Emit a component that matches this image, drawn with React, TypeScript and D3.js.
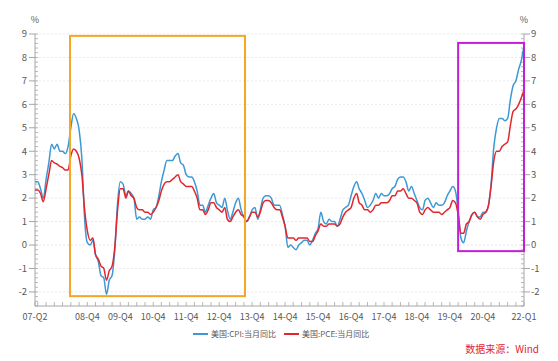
import React from "react";
import * as d3 from "d3";

const startMonth = "2007-05";
const cpi: number[] = [
  2.7, 2.7, 2.4, 2.0, 2.8, 3.5, 4.3, 4.1,
  4.3, 4.0, 4.0, 3.9, 4.2, 5.0, 5.6, 5.4, 4.9, 3.7, 1.1, 0.1,
  0.0, 0.2, -0.4, -0.7, -1.3, -1.4, -2.1, -1.5, -1.3, -0.2, 1.8, 2.7,
  2.6, 2.1, 2.3, 2.2, 2.0, 1.1, 1.2, 1.1, 1.1, 1.2, 1.1, 1.5,
  1.6, 2.1, 2.7, 3.2, 3.6, 3.6, 3.6, 3.8, 3.9, 3.5, 3.4, 3.0,
  2.9, 2.9, 2.7, 2.3, 1.7, 1.7, 1.4, 1.7, 2.0, 2.2, 1.8, 1.7,
  1.6, 2.0, 1.5, 1.1, 1.4, 1.8, 2.0, 1.5, 1.2, 1.0, 1.2, 1.5,
  1.6, 1.1, 1.5, 2.0, 2.1, 2.1, 2.0, 1.7, 1.7, 1.7, 1.3, 0.8,
  -0.1, 0.0, -0.1, -0.2, 0.0, 0.1, 0.2, 0.2, 0.0, 0.2, 0.5, 0.7,
  1.4, 1.0, 0.9, 1.1, 1.0, 1.0, 0.8, 1.1, 1.5, 1.6, 1.7, 2.1,
  2.5, 2.7, 2.4, 2.2, 1.9, 1.6, 1.7, 1.9, 2.2, 2.0, 2.2, 2.1,
  2.1, 2.2, 2.4, 2.5, 2.8, 2.9, 2.9, 2.7, 2.3, 2.5, 2.2, 1.9,
  1.6, 1.5, 1.9, 2.0, 1.8, 1.6, 1.8, 1.7, 1.7, 1.8, 2.1, 2.3,
  2.5, 2.3, 1.5, 0.3, 0.1, 0.6, 1.0, 1.3, 1.4, 1.2, 1.2, 1.4,
  1.4, 1.7, 2.6, 4.2, 5.0, 5.4, 5.4, 5.3, 5.4, 6.2, 6.8, 7.0,
  7.5, 7.9, 8.5,
];
const pce: number[] = [
  2.35, 2.35, 2.2, 1.85, 2.4, 3.0, 3.6, 3.5,
  3.45, 3.35, 3.3, 3.2, 3.2, 3.8, 4.1, 4.0, 3.7, 3.0, 1.5, 0.6,
  0.2, 0.3, -0.4, -0.6, -0.9, -1.0, -1.5, -1.1, -0.9, -0.1, 1.5, 2.4,
  2.4, 2.0, 2.3, 2.1, 2.0, 1.6, 1.5, 1.5, 1.4, 1.4, 1.3, 1.4,
  1.6, 1.9, 2.3, 2.6, 2.7, 2.7, 2.8, 2.9, 3.0, 2.7, 2.6, 2.5,
  2.5, 2.5, 2.3, 2.0, 1.5, 1.5, 1.3, 1.5, 1.8, 1.8, 1.6, 1.5,
  1.4, 1.6, 1.1, 1.0, 1.2, 1.4, 1.5, 1.3, 1.2, 1.0, 1.2, 1.4,
  1.4, 1.2, 1.4, 1.8, 1.9, 1.9, 1.8, 1.6, 1.5, 1.5, 1.2, 0.8,
  0.3, 0.3, 0.3, 0.2, 0.3, 0.3, 0.3, 0.3, 0.15, 0.15, 0.4, 0.6,
  0.9, 0.8, 0.8, 0.9, 0.9, 0.9, 0.8, 0.9, 1.2, 1.4, 1.5, 1.6,
  2.0, 2.2, 1.8, 1.7, 1.5, 1.5, 1.4, 1.5, 1.7, 1.7, 1.8, 1.8,
  1.8, 1.9, 2.1, 2.1, 2.3, 2.3, 2.4, 2.2, 2.0, 2.0, 1.9, 1.8,
  1.4, 1.3, 1.5, 1.6, 1.5, 1.4, 1.4, 1.4, 1.3, 1.4, 1.5, 1.6,
  1.9, 1.8, 1.3, 0.5, 0.5, 0.9, 1.0, 1.3, 1.4, 1.2, 1.1, 1.3,
  1.4, 1.7, 2.5, 3.6, 4.0, 4.0, 4.2, 4.3, 4.4, 5.1, 5.7, 5.8,
  6.0, 6.3, 6.6,
];
const seriesNames = ["美国:CPI:当月同比", "美国:PCE:当月同比"];
const tickLabels = ["07-Q2", "08-Q4", "09-Q4", "10-Q4", "11-Q4", "12-Q4", "13-Q4", "14-Q4", "15-Q4", "16-Q4", "17-Q4", "18-Q4", "19-Q4", "20-Q4", "22-Q1"];
const tickDates = ["2007-05", "2008-12", "2009-12", "2010-12", "2011-12", "2012-12", "2013-12", "2014-12", "2015-12", "2016-12", "2017-12", "2018-12", "2019-12", "2020-12", "2022-03"];
const yTicks = [-2, -1, 0, 1, 2, 3, 4, 5, 6, 7, 8, 9];
const boxStart = ["2008-05-23", "2020-03-01"];
const boxEnd = ["2013-09-13", "2022-03-01"];
const boxTop = [8.92, 8.62];
const boxBottom = [-2.18, -0.26];
const sourceText = "数据来源：Wind";

const W = 558, H = 361;
const L = 35, R = 524, T = 34, B = 306;
const FONT = "'Noto Sans CJK SC', 'Noto Sans', sans-serif";
const BLUE = "#3d98d3";
const RED = "#e2262e";
const BOXCOLORS = ["#f5a623", "#c41fd8"];
const AXIS = "#a6a6a6";
const TEXT = "#595959";

const parseM = d3.timeParse("%Y-%m");
const parseD = d3.timeParse("%Y-%m-%d");

export default function App() {
  const start = parseM(startMonth)!;
  const dates = cpi.map((_, i) => d3.timeMonth.offset(start, i));
  const x = d3.scaleTime().domain([dates[0], dates[dates.length - 1]]).range([L, R]);
  const y = d3.scaleLinear().domain([-2.6, 9]).range([B, T]);

  const line = d3
    .line<number>()
    .x((_, i) => x(dates[i]))
    .y((d) => y(d))
    .curve(d3.curveMonotoneX);

  const minorY = d3.range(-13, 46).map((k) => k / 5).filter((v) => v >= -2.6 && v <= 9);
  const quarterTicks = d3.range(0, dates.length).filter((i) => dates[i].getMonth() % 3 === 2 || i === 0).map((i) => dates[i]);

  return (
    <svg width={W} height={H} style={{ position: "absolute", left: 0, top: 0, background: "#fff" }} fontFamily={FONT}>
      <rect x={0} y={0} width={W} height={H} fill="#fff" />
      {yTicks.map((v) => (
        <line key={"g" + v} x1={L} x2={R} y1={y(v)} y2={y(v)} stroke="#e3e3e3" strokeWidth={0.8} strokeDasharray="2,2" />
      ))}
      <line x1={L} x2={L} y1={T} y2={B} stroke={AXIS} />
      {minorY.map((v, i) => (
        <line key={"ml" + i} x1={L} x2={L + 3} y1={y(v)} y2={y(v)} stroke={AXIS} strokeWidth={0.8} />
      ))}
      {yTicks.map((v) => (
        <g key={"yl" + v}>
          <line x1={L - 6} x2={L} y1={y(v)} y2={y(v)} stroke={AXIS} />
          <text x={L - 8} y={y(v)} dy="0.35em" textAnchor="end" fontSize={9.5} fill={TEXT}>{v}</text>
        </g>
      ))}
      <line x1={R} x2={R} y1={T} y2={B} stroke={AXIS} />
      {minorY.map((v, i) => (
        <line key={"mr" + i} x1={R - 3} x2={R} y1={y(v)} y2={y(v)} stroke={AXIS} strokeWidth={0.8} />
      ))}
      {yTicks.map((v) => (
        <g key={"yr" + v}>
          <line x1={R} x2={R + 6} y1={y(v)} y2={y(v)} stroke={AXIS} />
          <text x={R + 7} y={y(v)} dy="0.35em" textAnchor="start" fontSize={9.5} fill={TEXT}>{v}</text>
        </g>
      ))}
      <text x={L} y={23} textAnchor="middle" fontSize={9} fill={TEXT}>%</text>
      <text x={R} y={23} textAnchor="middle" fontSize={9} fill={TEXT}>%</text>
      <line x1={L} x2={R} y1={B} y2={B} stroke={AXIS} />
      {quarterTicks.map((d, i) => (
        <line key={"xt" + i} x1={x(d)} x2={x(d)} y1={B} y2={B - 4} stroke={AXIS} strokeWidth={0.8} />
      ))}
      {tickLabels.map((t, i) => (
        <text key={"xl" + i} x={x(parseM(tickDates[i])!)} y={B + 14} textAnchor="middle" fontSize={9} fill={TEXT}>{t}</text>
      ))}
      <path d={line(cpi) || ""} fill="none" stroke={BLUE} strokeWidth={1.5} />
      <path d={line(pce) || ""} fill="none" stroke={RED} strokeWidth={1.5} />
      {boxStart.map((s, i) => {
        const x0 = x(parseD(s)!);
        const x1 = x(parseD(boxEnd[i])!);
        const y0 = y(boxTop[i]);
        const y1 = y(boxBottom[i]);
        return <rect key={"b" + i} x={x0} y={y0} width={x1 - x0} height={y1 - y0} fill="none" stroke={BOXCOLORS[i]} strokeWidth={2} />;
      })}
      <line x1={193} x2={208} y1={334} y2={334} stroke={BLUE} strokeWidth={2} />
      <text x={211} y={334} dy="0.35em" fontSize={8} fill={TEXT}>{seriesNames[0]}</text>
      <line x1={284} x2={299} y1={334} y2={334} stroke={RED} strokeWidth={2} />
      <text x={302} y={334} dy="0.35em" fontSize={8} fill={TEXT}>{seriesNames[1]}</text>
      <text x={539} y={349} dy="0.35em" textAnchor="end" fontSize={10} fill="#e2262e">{sourceText}</text>
    </svg>
  );
}
